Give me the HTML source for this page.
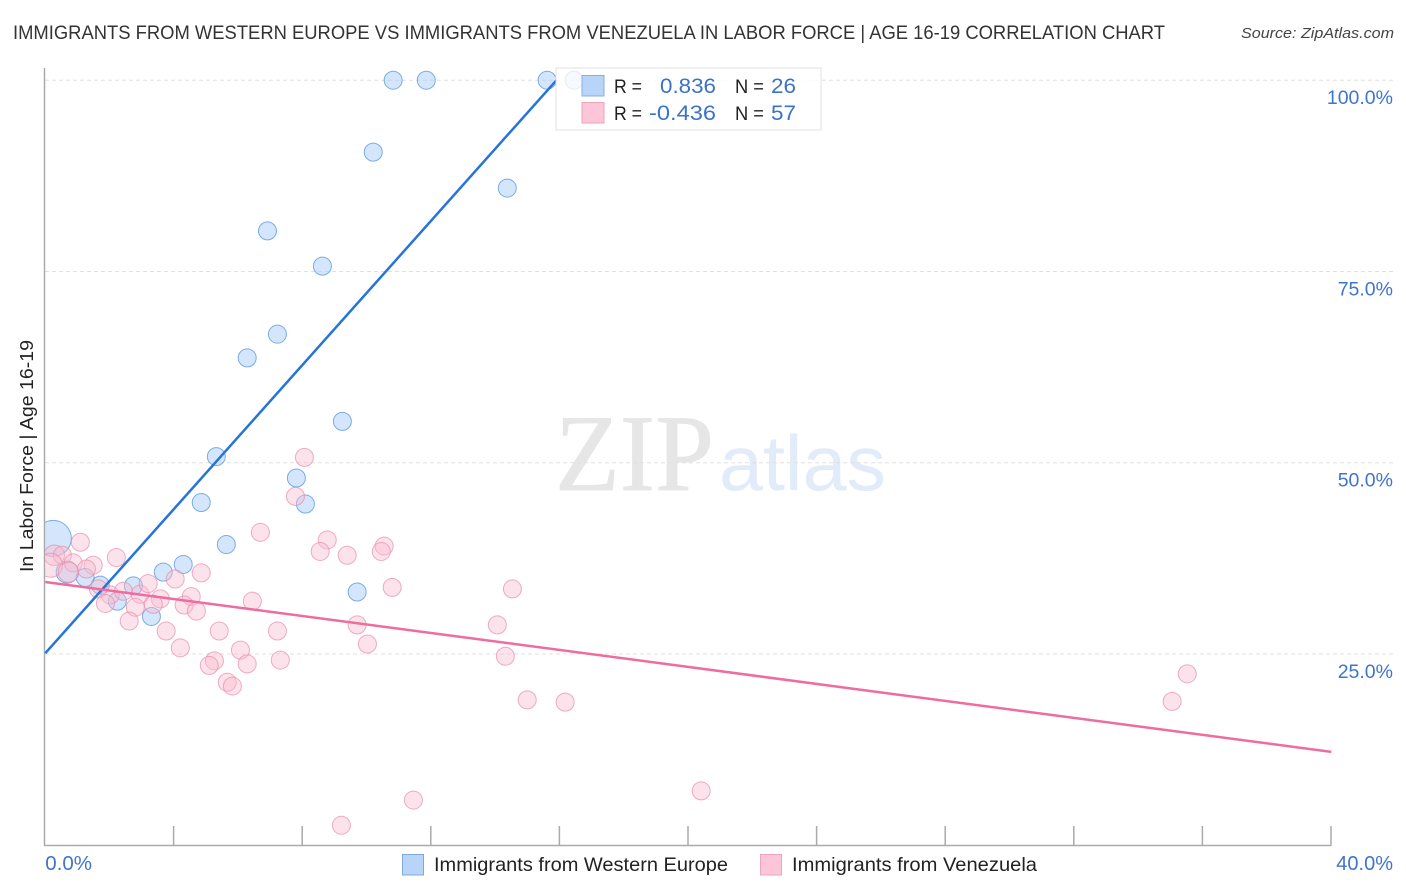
<!DOCTYPE html>
<html lang="en">
<head>
<meta charset="utf-8">
<title>Immigrants from Western Europe vs Immigrants from Venezuela in Labor Force | Age 16-19</title>
<style>
html,body{margin:0;padding:0;background:#fff;}
svg{display:block;font-family:"Liberation Sans",sans-serif;}
</style>
</head>
<body>
<svg id="chart" xmlns="http://www.w3.org/2000/svg" width="1406" height="892" viewBox="0 0 1406 892">
  <defs>
    <clipPath id="plot-clip"><rect x="45" y="60" width="1350" height="786"/></clipPath>
  </defs>
  <rect x="0" y="0" width="1406" height="892" fill="#ffffff"/>
  <g>
    <text x="555" y="490" font-family="'Liberation Serif',serif" font-size="109" fill="#e6e6e6" stroke="#e6e6e6" stroke-width="0.8" textLength="159" lengthAdjust="spacingAndGlyphs">ZIP</text>
    <text x="719" y="490" font-size="78" fill="#e1ebf9" textLength="167" lengthAdjust="spacingAndGlyphs">atlas</text>
  </g>
  <g id="grid"></g>
  <g id="axes"></g>
  <g clip-path="url(#plot-clip)">
    <g id="points-blue"></g>
    <g id="points-pink"></g>
  </g>
  <g id="trends"></g>
  <g id="y-labels"></g>
  <g id="x-labels"></g>

  <text x="13" y="39" font-size="19.5" fill="#333" textLength="1152" lengthAdjust="spacingAndGlyphs">IMMIGRANTS FROM WESTERN EUROPE VS IMMIGRANTS FROM VENEZUELA IN LABOR FORCE | AGE 16-19 CORRELATION CHART</text>
  <text x="1241" y="38" font-size="15" font-style="italic" fill="#444" textLength="153" lengthAdjust="spacingAndGlyphs">Source: ZipAtlas.com</text>
  <text transform="translate(33,572) rotate(-90)" x="0" y="0" font-size="18.5" fill="#222" textLength="232" lengthAdjust="spacingAndGlyphs">In Labor Force | Age 16-19</text>

  <g>
    <rect x="556" y="68" width="265" height="62" fill="#ffffff" fill-opacity="0.78" stroke="#e2e2e2" stroke-width="1"/>
    <rect x="582" y="75.500" width="22" height="20.500" fill="#b8d4f8" stroke="#85b1e6" stroke-width="1"/>
    <rect x="582" y="102.500" width="22" height="20.500" fill="#fcc5d8" stroke="#f0a3bd" stroke-width="1"/>
    <text x="614" y="93" font-size="19.500" fill="#222" textLength="28" lengthAdjust="spacingAndGlyphs">R =</text>
    <text x="660" y="93" font-size="21" fill="#3a72cc" textLength="56" lengthAdjust="spacingAndGlyphs">0.836</text>
    <text x="735" y="93" font-size="19.500" fill="#222" textLength="29" lengthAdjust="spacingAndGlyphs">N =</text>
    <text x="771" y="93" font-size="21" fill="#3a72cc" textLength="25" lengthAdjust="spacingAndGlyphs">26</text>
    <text x="614" y="120" font-size="19.500" fill="#222" textLength="28" lengthAdjust="spacingAndGlyphs">R =</text>
    <text x="649" y="120" font-size="21" fill="#3a72cc" textLength="67" lengthAdjust="spacingAndGlyphs">-0.436</text>
    <text x="735" y="120" font-size="19.500" fill="#222" textLength="29" lengthAdjust="spacingAndGlyphs">N =</text>
    <text x="771" y="120" font-size="21" fill="#3a72cc" textLength="25" lengthAdjust="spacingAndGlyphs">57</text>
  </g>

  <g>
    <g>
      <rect x="402.500" y="854.500" width="21" height="20.500" fill="#b8d4f8" stroke="#7ea9e0" stroke-width="1"/>
      <text x="434" y="871" font-size="19.500" fill="#222" textLength="294" lengthAdjust="spacingAndGlyphs">Immigrants from Western Europe</text>
    </g>
    <g>
      <rect x="760.500" y="854.500" width="21" height="20.500" fill="#fcc5d8" stroke="#f0a3bd" stroke-width="1"/>
      <text x="792" y="871" font-size="19.500" fill="#222" textLength="245" lengthAdjust="spacingAndGlyphs">Immigrants from Venezuela</text>
    </g>
  </g>
</svg>
<script>
// Chart data (percent values)
const yTicks = [25, 50, 75, 100];
const yTickLabels = ["25.0%", "50.0%", "75.0%", "100.0%"];
const xTicks = [0, 4, 8, 12, 16, 20, 24, 28, 32, 36, 40];
const xEndTicks = [0, 40];
const xEndLabels = ["0.0%", "40.0%"];

const blueX = [10.82, 11.85, 15.61, 16.45, 10.20, 14.37, 6.91, 8.62, 7.22, 6.28, 9.24, 5.32, 7.81, 4.85, 8.09, 5.63, 4.29, 3.67, 9.70, 1.71, 2.74, 1.24, 0.68, 2.24, 3.30, 0.25];
const blueY = [100, 100, 100, 100, 90.6, 85.9, 80.3, 75.7, 66.8, 63.7, 55.4, 50.8, 48.0, 44.8, 44.6, 39.3, 36.7, 35.7, 33.1, 34.0, 33.9, 35.0, 35.7, 31.9, 29.9, 40.1];
const blueWeight = [1, 1, 1, 1, 1, 1, 1, 1, 1, 1, 1, 1, 1, 1, 1, 1, 1, 1, 1, 1, 1, 1, 1.5, 1, 1, 4];

const pinkX = [1.09, 0.28, 0.53, 0.16, 0.87, 0.72, 1.49, 1.28, 2.21, 1.65, 2.02, 1.87, 2.43, 2.95, 3.20, 4.04, 4.85, 3.58, 3.36, 2.80, 2.61, 4.54, 4.32, 4.70, 3.76, 4.20, 5.41, 6.44, 7.22, 6.07, 5.26, 5.10, 6.28, 7.31, 5.66, 5.82, 6.69, 8.77, 8.55, 9.39, 8.06, 7.78, 10.54, 10.45, 10.79, 14.53, 9.70, 10.02, 14.06, 14.31, 14.99, 16.17, 35.52, 35.05, 20.40, 11.45, 9.21];
const pinkY = [39.6, 37.9, 37.9, 36.6, 36.9, 35.7, 36.6, 36.1, 37.6, 33.5, 32.7, 31.6, 33.2, 32.8, 34.2, 34.8, 35.6, 32.2, 31.5, 31.1, 29.3, 32.5, 31.4, 30.6, 28.0, 25.8, 28.0, 31.9, 28.0, 25.5, 24.1, 23.5, 23.7, 24.2, 21.3, 20.8, 40.9, 39.9, 38.4, 37.9, 50.7, 45.6, 39.1, 38.4, 33.7, 33.5, 28.8, 26.3, 28.8, 24.7, 19.0, 18.7, 22.4, 18.8, 7.1, 5.9, 2.6];
const pinkWeight = [
  1, 1.3, 1, 1.8, 1, 1.3, 1, 1, 1, 1,
  1, 1, 1, 1, 1, 1, 1, 1, 1, 1,
  1, 1, 1, 1, 1, 1, 1, 1, 1, 1,
  1, 1, 1, 1, 1, 1, 1, 1, 1, 1,
  1, 1, 1, 1, 1, 1, 1, 1, 1, 1,
  1, 1, 1, 1, 1, 1, 1
];

const blueTrendX = [0, 15.9];
const blueTrendY = [25.1, 100];
const pinkTrendX = [0, 40];
const pinkTrendY = [34.4, 12.2];

// Axis functions
const xPos = function (v) { return 45.3 + v * 32.15; };
const yPos = function (v) { return 845.2 - v * 7.65; };
const radius = function (w) { return 9 * Math.sqrt(w || 1); };

const NS = 'http://www.w3.org/2000/svg';
function make(tag, parent, attrs) {
  const el = document.createElementNS(NS, tag);
  Object.keys(attrs).forEach(function (k) { el.setAttribute(k, attrs[k]); });
  parent.appendChild(el);
  return el;
}

const gridG = document.getElementById('grid');
const axesG = document.getElementById('axes');
const yLabelG = document.getElementById('y-labels');
const xLabelG = document.getElementById('x-labels');

yTicks.forEach(function (t, i) {
  const line = make('line', gridG, { x1: 45, x2: 1393, y1: yPos(t), y2: yPos(t), stroke: '#e0e0e0', 'stroke-width': 1, 'stroke-dasharray': '4 3' });
  
  
  const label = make('text', yLabelG, { x: 1393, y: yPos(t) + 24, 'text-anchor': 'end', 'font-size': 19.5, fill: '#3f74cf' });
  label.textContent = yTickLabels[i];
  
  
});

const yAxisLine = make('line', axesG, { x1: 44.5, x2: 44.5, y1: 68, y2: 845.5, stroke: '#aaaaaa', 'stroke-width': 1.5 });


const xAxisLine = make('line', axesG, { x1: 44, x2: 1331.5, y1: 845.5, y2: 845.5, stroke: '#aaaaaa', 'stroke-width': 1.5 });



xTicks.forEach(function (t) {
  if (t === 0) return;
  const tick = make('line', axesG, { x1: xPos(t) - 0.3, x2: xPos(t) - 0.3, y1: 826, y2: 845, stroke: '#aaaaaa', 'stroke-width': 1.5 });
  
  
});

xEndTicks.forEach(function (t, i) {
  const anchorRight = i === xEndTicks.length - 1;
  const label = make('text', xLabelG, { x: anchorRight ? 1393 : xPos(t), y: 870, 'text-anchor': anchorRight ? 'end' : 'start', 'font-size': anchorRight ? 20 : 20.5, fill: '#3f74cf' });
  label.textContent = xEndLabels[i];
  
  
});

const blueG = document.getElementById('points-blue');
blueX.forEach(function (x, i) {
  const c = make('circle', blueG, { cx: xPos(x), cy: yPos(blueY[i]), r: radius(blueWeight[i]), fill: '#a9cdf7', 'fill-opacity': 0.5, stroke: '#5f9adf', 'stroke-opacity': 0.8, 'stroke-width': 1 });
  
  
});

const pinkG = document.getElementById('points-pink');
pinkX.forEach(function (x, i) {
  const c = make('circle', pinkG, { cx: xPos(x), cy: yPos(pinkY[i]), r: radius(pinkWeight[i]), fill: '#f9bdd0', 'fill-opacity': 0.42, stroke: '#e88aab', 'stroke-opacity': 0.7, 'stroke-width': 1 });
  
  
});

const trendG = document.getElementById('trends');
const blueTrend = make('line', trendG, { x1: xPos(blueTrendX[0]), y1: yPos(blueTrendY[0]), x2: xPos(blueTrendX[1]), y2: yPos(blueTrendY[1]), stroke: '#2674d9', 'stroke-width': 2.5 });


const pinkTrend = make('line', trendG, { x1: xPos(pinkTrendX[0]), y1: yPos(pinkTrendY[0]), x2: xPos(pinkTrendX[1]), y2: yPos(pinkTrendY[1]), stroke: '#ee6c9e', 'stroke-width': 2.5 });


</script>
</body>
</html>
